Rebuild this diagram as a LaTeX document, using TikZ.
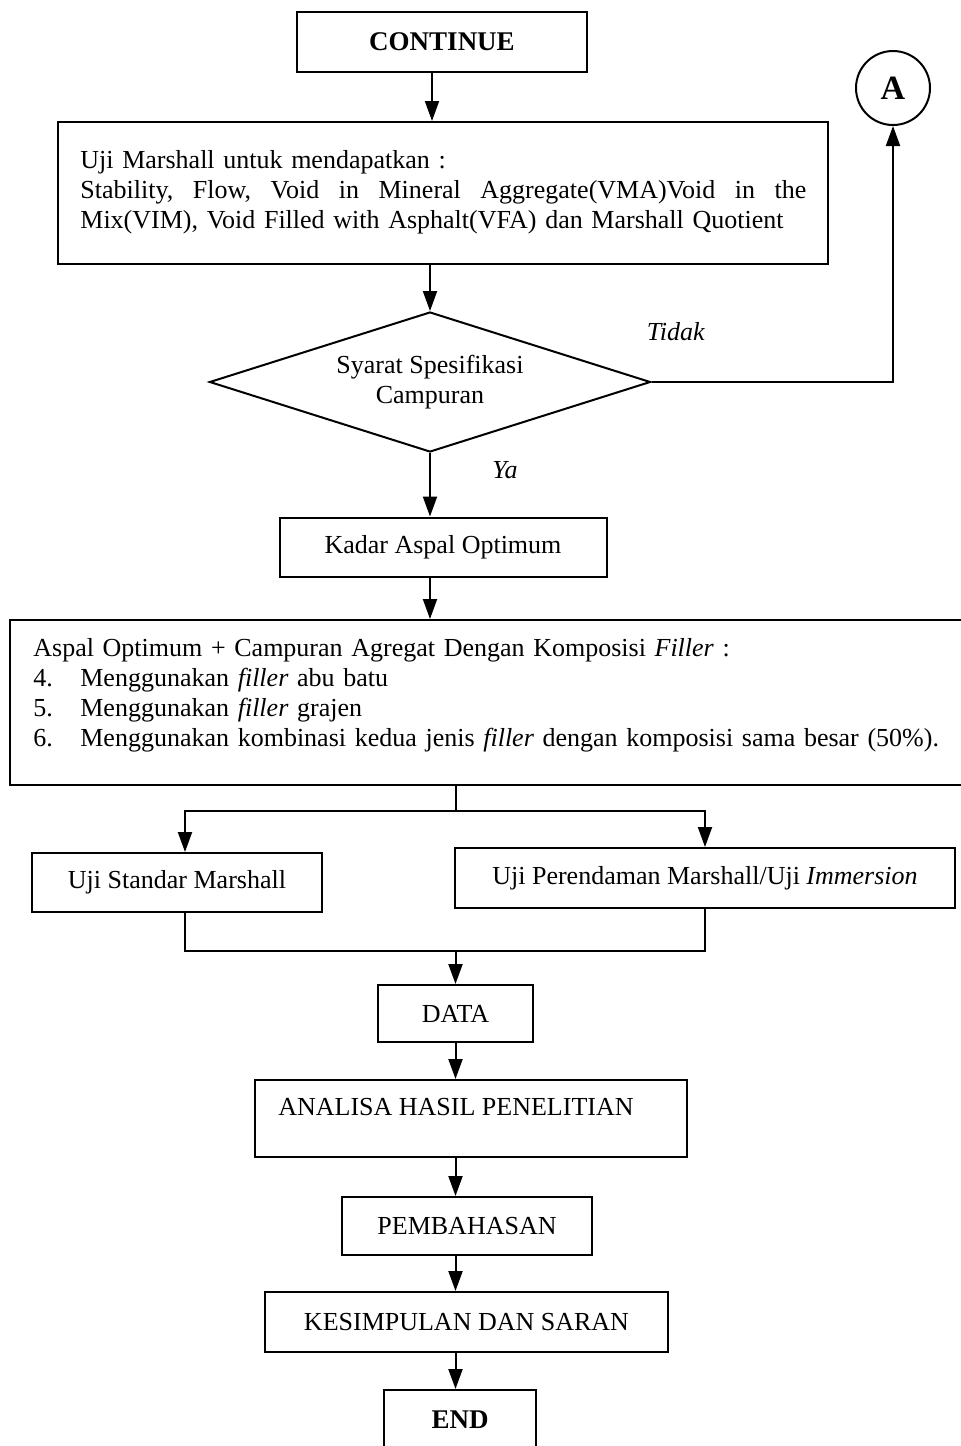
\documentclass[tikz,border=0pt]{standalone}
\usepackage{fontspec}
\setmainfont{Liberation Serif}
\usetikzlibrary{arrows.meta,shapes.geometric,calc}
\begin{document}
\begin{tikzpicture}[x=0.5pt,y=-0.5pt,
  box/.style={draw,line width=1pt,rectangle,inner sep=0pt},
  arr/.style={line width=1pt,-{Triangle[length=10pt,width=7pt]}},
  ln/.style={line width=1pt},
  txt/.style={inner sep=0pt,font=\fontsize{13}{15}\selectfont},
  every node/.style={font=\fontsize{13}{15}\selectfont}]
\useasboundingbox (0,0) rectangle (960,1446);

\node[box,minimum width=145pt,minimum height=30pt] (cont) at (442,42) {\fontsize{13.5}{15}\selectfont\textbf{CONTINUE}};
\node[draw,circle,line width=1pt,minimum size=37pt,inner sep=0pt] (A) at (893,88) {\fontsize{17}{17}\selectfont\textbf{A}};

\node[box,minimum width=385pt,minimum height=71pt] (uji) at (443,193) {};
\node[txt,anchor=north west,text width=364pt,align=left] (ujitext) at (80,150) {Uji Marshall untuk mendapatkan :\\
\leavevmode\hbox to 363pt{Stability,\hfill Flow,\hfill Void\hfill in\hfill Mineral\hfill Aggregate(VMA)Void\hfill in\hfill the}\\
Mix(VIM), Void Filled with Asphalt(VFA) dan Marshall Quotient};

\node[draw,diamond,aspect=3.1,line width=1pt,minimum width=220.5pt,minimum height=70pt,inner sep=0pt,align=center] (dia) at (430,382) {Syarat Spesifikasi\\Campuran};
\node[txt] (tidak) at (676,332) {\textit{Tidak}};
\node[txt] (ya) at (505,470) {\textit{Ya}};

\node[box,minimum width=163.5pt,minimum height=29.5pt] (kadar) at (443,547) {Kadar Aspal Optimum};

\node[box,minimum width=480pt,minimum height=82.5pt] (filler) at (490,702.5) {};
\node[txt,anchor=north west,text width=470pt,align=left] (fillertext) at (33,638) {Aspal Optimum + Campuran Agregat Dengan Komposisi \textit{Filler} :\\
\makebox[23.5pt][l]{4.}Menggunakan \textit{filler} abu batu\\
\makebox[23.5pt][l]{5.}Menggunakan \textit{filler} grajen\\
\makebox[23.5pt][l]{6.}Menggunakan kombinasi kedua jenis \textit{filler} dengan komposisi sama besar (50\%).};

\node[box,minimum width=145pt,minimum height=29.5pt] (std) at (177,882.5) {Uji Standar Marshall};
\node[box,minimum width=250pt,minimum height=30pt] (per) at (705,878) {Uji Perendaman Marshall/Uji \textit{Immersion}};

\node[box,minimum width=77.5pt,minimum height=28.5pt] (data) at (455.5,1013.5) {DATA};
\node[box,minimum width=216pt,minimum height=38.5pt] (ana) at (471,1118.5) {};
\node[txt] (anatext) at (456,1107) {ANALISA HASIL PENELITIAN};
\node[box,minimum width=125pt,minimum height=29pt] (pem) at (467,1226) {PEMBAHASAN};
\node[box,minimum width=201.5pt,minimum height=30pt] (kes) at (466.5,1322) {KESIMPULAN DAN SARAN};
\node[box,minimum width=76pt,minimum height=30pt] (endb) at (460,1420) {\fontsize{13.5}{15}\selectfont\textbf{END}};

% connectors
\draw[arr] ([xshift=-5pt]cont.south) -- ([xshift=-5pt]cont.south |- uji.north);
\draw[arr] (uji.south -| dia.north) -- (dia.north);
\draw[arr] (dia.east) -| (A.south);
\draw[arr] (dia.south) -- (dia.south |- kadar.north);
\draw[arr] (dia.south |- kadar.south) -- (dia.south |- filler.north);

\draw[ln] (data.north |- filler.south) -- ++(0,25) coordinate (j1);
\draw[arr] (j1) -| ([xshift=4pt]std.north);
\draw[arr] (j1) -| (per.north);
\coordinate (j2) at ($(data.north)+(0,-33)$);
\draw[ln] ([xshift=4pt]std.south) -- ([xshift=4pt]std.south |- j2) -- (j2 -| per.south) -- (per.south);
\draw[arr] (j2) -- (data.north);
\draw[arr] (data.south) -- (data.south |- ana.north);
\draw[arr] (data.south |- ana.south) -- (data.south |- pem.north);
\draw[arr] (data.south |- pem.south) -- (data.south |- kes.north);
\draw[arr] (data.south |- kes.south) -- (data.south |- endb.north);
\end{tikzpicture}
\end{document}
